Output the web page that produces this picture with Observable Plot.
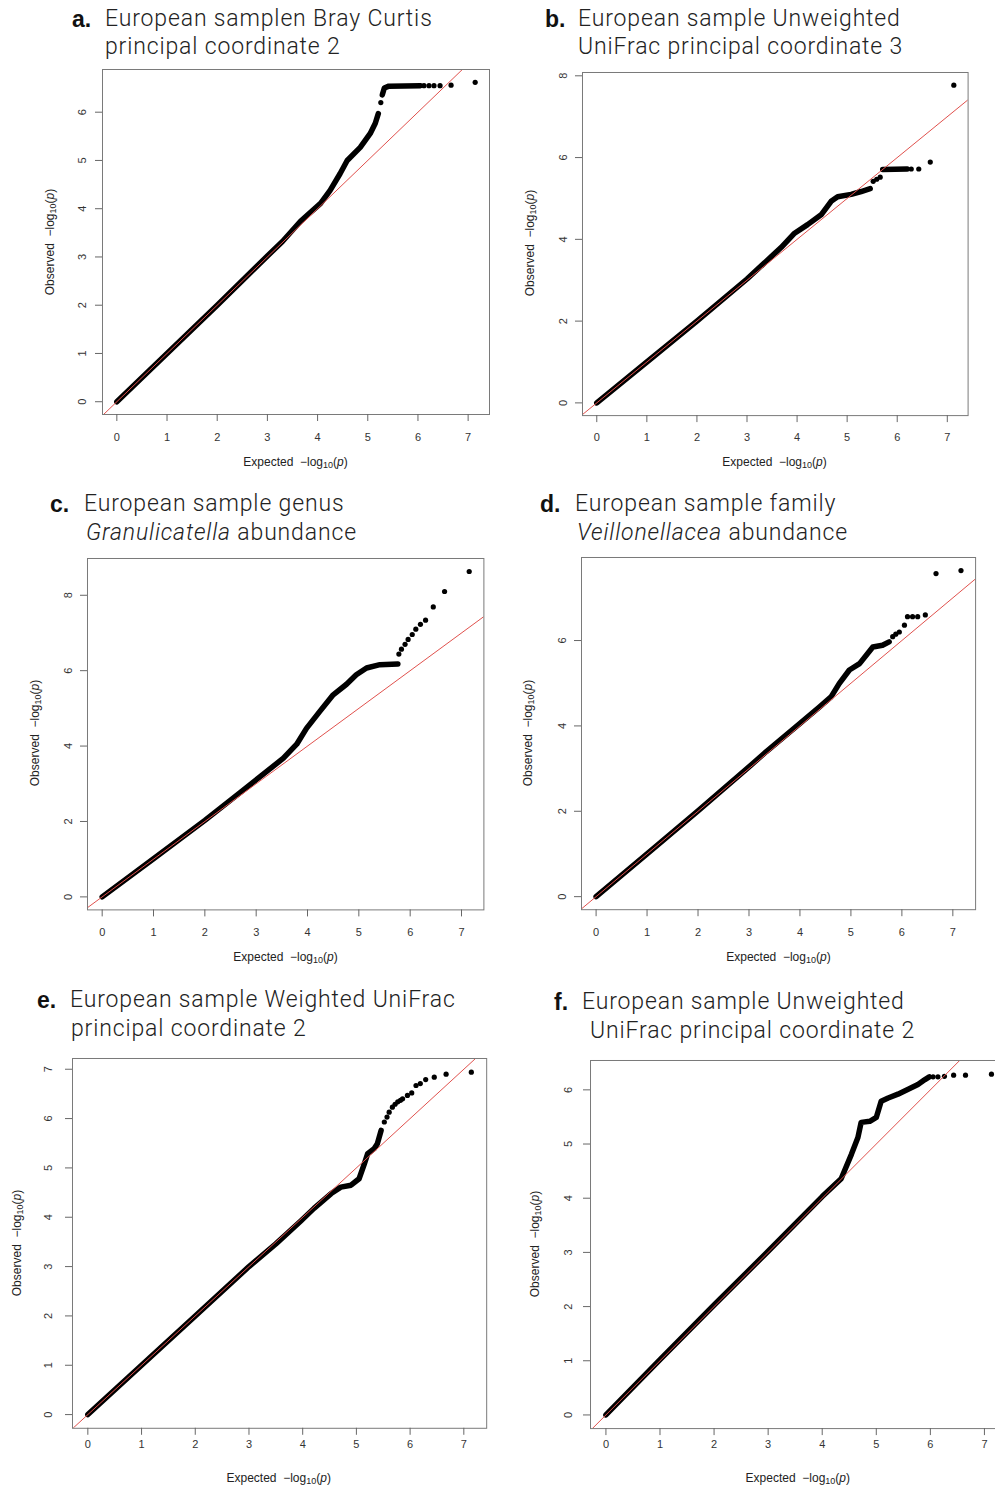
<!DOCTYPE html>
<html><head><meta charset="utf-8">
<script src="https://cdn.jsdelivr.net/npm/d3@7"></script>
<script src="https://cdn.jsdelivr.net/npm/@observablehq/plot@0.6"></script>
<style>
html,body{margin:0;padding:0;background:#fff;overflow:hidden;}
#page{position:relative;width:995px;height:1488px;overflow:hidden;background:#fff;}
.t{position:absolute;white-space:nowrap;font-family:Roboto,"Liberation Sans",sans-serif;font-weight:300;font-size:23px;letter-spacing:0.85px;color:#222;line-height:28.5px;}
.lab{position:absolute;white-space:nowrap;font-family:"Liberation Sans",Arial,sans-serif;font-weight:700;font-size:23px;color:#111;line-height:28.5px;}
.ax{position:absolute;white-space:nowrap;font-family:"Liberation Sans",Arial,sans-serif;font-size:12px;color:#222;line-height:14px;}
.ax sub{font-size:9px;vertical-align:-2px;line-height:0;}
#page svg{position:absolute;overflow:visible;}
</style></head><body><div id="page"></div>
<script>
// ---------- data ----------
const xTicks = [0, 1, 2, 3, 4, 5, 6, 7];
const yTicksA = [0, 1, 2, 3, 4, 5, 6];
const yTicksB = [0, 2, 4, 6, 8];
const yTicksC = [0, 2, 4, 6, 8];
const yTicksD = [0, 2, 4, 6];
const yTicksE = [0, 1, 2, 3, 4, 5, 6, 7];
const yTicksF = [0, 1, 2, 3, 4, 5, 6];

// dense bands of points (expected, observed), one list per continuous run
const curveA = [
  [[0,0],[1,1],[2,2],[3,3.02],[3.3,3.32],[3.66,3.74],[4.06,4.11],[4.25,4.38],[4.45,4.73],[4.59,5.0],[4.85,5.27],[5.05,5.56],[5.15,5.77],[5.21,5.97]],
  [[5.29,6.36],[5.33,6.5],[5.42,6.54],[6.05,6.55]]
];
const tailA = [[5.26,6.2],[6.12,6.55],[6.22,6.55],[6.32,6.55],[6.44,6.55],[6.66,6.56],[7.14,6.62]];

const curveB = [
  [[0,0],[1,1],[2,2],[3,3.03],[3.38,3.46],[3.68,3.8],[3.95,4.15],[4.21,4.36],[4.48,4.6],[4.68,4.93],[4.81,5.04],[5.08,5.1],[5.28,5.17],[5.46,5.24]],
  [[5.71,5.71],[6.2,5.72]]
];
const tailB = [[5.52,5.42],[5.59,5.47],[5.66,5.52],[6.28,5.72],[6.43,5.72],[6.66,5.89],[7.13,7.77]];

const curveC = [
  [[0,0],[1,1.01],[2,2.03],[2.68,2.76],[3.2,3.32],[3.53,3.68],[3.79,4.05],[3.98,4.47],[4.24,4.92],[4.5,5.36],[4.76,5.64],[4.95,5.89],[5.15,6.07],[5.41,6.16],[5.76,6.18]]
];
const tailC = [[5.78,6.44],[5.83,6.57],[5.9,6.7],[5.96,6.83],[6.04,6.96],[6.11,7.1],[6.2,7.23],[6.3,7.34],[6.45,7.69],[6.67,8.1],[7.15,8.63]];

const curveD = [
  [[0,0],[1,1],[2,2.01],[3,3.04],[3.34,3.4],[3.99,4.05],[4.38,4.44],[4.61,4.68],[4.77,4.99],[4.97,5.31],[5.17,5.46],[5.43,5.85],[5.62,5.89],[5.75,5.97]]
];
const tailD = [[5.82,6.09],[5.88,6.15],[5.95,6.2],[6.05,6.36],[6.11,6.56],[6.21,6.56],[6.31,6.56],[6.46,6.6],[6.67,7.57],[7.16,7.64]];

const curveE = [
  [[0,0],[1,1],[2,2],[3,3],[3.5,3.46],[3.97,3.93],[4.21,4.18],[4.53,4.48],[4.71,4.61],[4.9,4.65],[5.05,4.78],[5.15,5.09],[5.21,5.29],[5.33,5.39],[5.39,5.49],[5.46,5.76]]
];
const tailE = [[5.52,5.93],[5.57,6.03],[5.61,6.13],[5.67,6.23],[5.72,6.29],[5.77,6.34],[5.82,6.37],[5.86,6.4],[5.95,6.47],[6.03,6.52],[6.11,6.67],[6.19,6.71],[6.29,6.79],[6.45,6.84],[6.67,6.9],[7.14,6.94]];

const curveF = [
  [[0,0],[1,1.02],[2,2.03],[3,3.02],[4,4.03],[4.35,4.36],[4.54,4.81],[4.66,5.12],[4.72,5.4],[4.88,5.42],[5.0,5.49],[5.09,5.79],[5.22,5.85],[5.4,5.92],[5.59,6.01],[5.77,6.1],[5.9,6.19],[5.98,6.24]]
];
const tailF = [[6.05,6.24],[6.14,6.24],[6.26,6.25],[6.43,6.27],[6.65,6.27],[7.13,6.29]];

// titles: lines of [text, italic]
const titleA = [[["European samplen Bray Curtis", false]], [["principal coordinate 2", false]]];
const titleB = [[["European sample Unweighted", false]], [["UniFrac principal coordinate 3", false]]];
const titleC = [[["European sample genus", false]], [["Granulicatella", true], [" abundance", false]]];
const titleD = [[["European sample family", false]], [["Veillonellacea", true], [" abundance", false]]];
const titleE = [[["European sample Weighted UniFrac", false]], [["principal coordinate 2", false]]];
const titleF = [[["European sample Unweighted", false]], [["UniFrac principal coordinate 2", false]]];
const panelLetters = ["a.", "b.", "c.", "d.", "e.", "f."];

// ---------- layout (pixel geometry of each panel) ----------
const panels = [
  {curve: curveA, tail: tailA, yTicks: yTicksA, title: titleA, box: [102, 69, 489, 414], tx: 23, ty: 20, lx: 48, ly: 52, labX: 72, textX: 105, indent: 0, base: 26.7},
  {curve: curveB, tail: tailB, yTicks: yTicksB, title: titleB, box: [581.7, 71.5, 967.3, 414.6], tx: 21.5, ty: 19, lx: 47, ly: 52, labX: 545, textX: 578, indent: 0, base: 26.7},
  {curve: curveC, tail: tailC, yTicks: yTicksC, title: titleC, box: [87.3, 557.6, 483.7, 909], tx: 22, ty: 19, lx: 48, ly: 52, labX: 50, textX: 84, indent: 2, base: 512.5},
  {curve: curveD, tail: tailD, yTicks: yTicksD, title: titleD, box: [581.4, 557, 975.5, 909.2], tx: 22, ty: 19, lx: 48, ly: 53, labX: 540, textX: 575, indent: 2, base: 512.5},
  {curve: curveE, tail: tailE, yTicks: yTicksE, title: titleE, box: [71.6, 1058, 485.8, 1427.8], tx: 15.5, ty: 24, lx: 50, ly: 55, labX: 37, textX: 70, indent: 1, base: 1008.5},
  {curve: curveF, tail: tailF, yTicks: yTicksF, title: titleF, box: [589.6, 1059.5, 1006, 1427.6], tx: 15.5, ty: 22, lx: 50, ly: 55, labX: 554, textX: 582, indent: 8, base: 1010.5}
];

const page = document.getElementById("page");
const pad = ([a, b]) => { const r = b - a; return [a - 0.04 * r, b + 0.04 * r]; };
const intFmt = d3.format("d");

function addDiv(cls, html, left, top, transform) {
  const d = document.createElement("div");
  d.className = cls;
  d.innerHTML = html;
  d.style.left = left + "px";
  d.style.top = top + "px";
  if (transform) d.style.transform = transform;
  page.appendChild(d);
  return d;
}

panels.forEach((p, i) => {
  const [L, T, R, B] = p.box;
  const ml = 70, mr = 6, mt = 6, mb = 60;
  const band = p.curve.flatMap((seg, k) => seg.map(([x, y]) => ({x, y, s: k})));
  const dots = p.tail.map(([x, y]) => ({x, y}));
  const all = band.concat(dots);
  const xd = pad(d3.extent(all, d => d.x));
  const yd = pad(d3.extent(all, d => d.y));
  const fs = 11;
  const chart = Plot.plot({
    width: R - L + ml + mr,
    height: B - T + mt + mb,
    marginLeft: ml, marginRight: mr, marginTop: mt, marginBottom: mb,
    x: {domain: xd},
    y: {domain: yd},
    style: {background: "transparent", color: "#333", fontFamily: "'Liberation Sans', Arial, sans-serif", fontSize: fs + "px", overflow: "visible"},
    marks: [
      Plot.line(band, {x: "x", y: "y", z: "s", stroke: "#000", strokeWidth: 5.5, strokeLinecap: "round", strokeLinejoin: "round"}),
      Plot.dot(dots, {x: "x", y: "y", r: 2.6, fill: "#000"}),
      Plot.line(xd, {x: d => d, y: d => d, stroke: "#e0504c", strokeWidth: 1, clip: true}),
      Plot.frame({stroke: "#7a7a7a"}),
      Plot.axisX(xTicks, {anchor: "bottom", tickSize: 7, tickPadding: p.tx - 7 - 0.355 * fs, tickFormat: intFmt, stroke: "#666", label: null}),
      Plot.axisY(p.yTicks, {anchor: "left", tickSize: 7, tickRotate: -90, tickPadding: p.ty - 7 - 0.355 * fs, tickFormat: intFmt, stroke: "#666", label: null})
    ]
  });
  chart.style.left = (L - ml) + "px";
  chart.style.top = (T - mt) + "px";
  page.appendChild(chart);

  // axis titles
  addDiv("ax", "Expected&nbsp; \u2212log<sub>10</sub>(<i>p</i>)", (L + R) / 2, B + p.lx, "translate(-50%,-50%)");
  addDiv("ax", "Observed&nbsp; \u2212log<sub>10</sub>(<i>p</i>)", L - p.ly, (T + B) / 2, "translate(-50%,-50%) rotate(-90deg)");

  // panel title (both lines in one block)
  const lineHtml = line => line.map(([t, it]) => it ? `<i>${t}</i>` : t).join("");
  const top = p.base - 22.1;
  addDiv("lab", panelLetters[i], p.labX, top);
  addDiv("t", lineHtml(p.title[0]) + `<br><span style="margin-left:${p.indent}px">` + lineHtml(p.title[1]) + "</span>", p.textX, top);
});
</script>
</body></html>
